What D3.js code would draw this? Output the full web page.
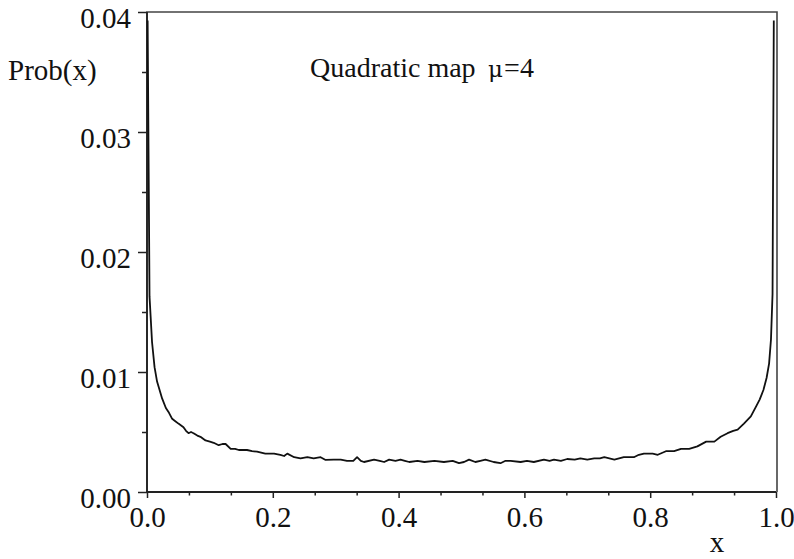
<!DOCTYPE html>
<html><head><meta charset="utf-8">
<script src="https://cdn.jsdelivr.net/npm/d3@7"></script>
<style>
html,body{margin:0;padding:0;background:#fff;}
svg text{font-family:"Liberation Serif","Times New Roman",serif;fill:#111;}
</style></head>
<body>
<svg id="c" width="794" height="559"></svg>
<script>
// ---- data ----
const xVals = [0.001,0.004,0.008,0.012,0.016,0.020,0.024,0.030,0.035,0.040,0.045,0.050,0.058,0.062,0.066,0.070,0.074,0.080,0.085,0.093,0.100,0.106,0.114,0.120,0.125,0.133,0.140,0.146,0.159,0.167,0.175,0.188,0.202,0.212,0.218,0.223,0.234,0.244,0.255,0.265,0.276,0.284,0.297,0.308,0.318,0.328,0.334,0.340,0.345,0.361,0.370,0.377,0.385,0.395,0.403,0.410,0.417,0.430,0.441,0.457,0.472,0.486,0.496,0.504,0.512,0.522,0.530,0.538,0.551,0.562,0.570,0.578,0.594,0.604,0.615,0.631,0.640,0.647,0.658,0.668,0.680,0.689,0.700,0.711,0.720,0.727,0.743,0.758,0.774,0.782,0.790,0.804,0.812,0.825,0.838,0.849,0.862,0.875,0.889,0.902,0.912,0.923,0.932,0.939,0.949,0.960,0.968,0.974,0.980,0.985,0.989,0.992,0.9945,0.9965];
const probVals = [0.0393,0.0163,0.0125,0.0104,0.0092,0.0085,0.0078,0.0070,0.0066,0.0061,0.0059,0.0057,0.0054,0.0051,0.0049,0.0050,0.0049,0.0047,0.0046,0.0043,0.0042,0.0041,0.0039,0.0040,0.0040,0.0036,0.0036,0.0035,0.0035,0.0034,0.00336,0.0032,0.0032,0.0031,0.0030,0.0032,0.0029,0.0028,0.0029,0.0028,0.0029,0.00267,0.0027,0.0027,0.0026,0.0026,0.0029,0.0026,0.0025,0.0027,0.0026,0.0025,0.0027,0.0026,0.0027,0.0026,0.0025,0.0026,0.0025,0.0026,0.0025,0.0026,0.0024,0.0025,0.0027,0.0025,0.0026,0.0027,0.0025,0.0024,0.0026,0.0026,0.0025,0.0026,0.0025,0.0027,0.0026,0.0027,0.0026,0.00275,0.0027,0.0028,0.0027,0.0028,0.0028,0.0029,0.0027,0.0029,0.0029,0.0031,0.0032,0.0032,0.0031,0.0034,0.0034,0.0036,0.0036,0.0038,0.0042,0.0042,0.0046,0.0049,0.0051,0.0052,0.0057,0.0063,0.0071,0.0077,0.0085,0.0095,0.0107,0.0127,0.0165,0.0393];
const xTicks = [0,0.2,0.4,0.6,0.8,1.0];
const xTickLabels = ["0.0","0.2","0.4","0.6","0.8","1.0"];
const yTicks = [0,0.01,0.02,0.03,0.04];
const yTickLabels = ["0.00","0.01","0.02","0.03","0.04"];
const xMinor = [1/15,2/15,4/15,5/15,7/15,8/15,10/15,11/15,13/15,14/15];
const yMinor = [0.005,0.015,0.025,0.035];
const title = "Quadratic map";
const muParts = ["\u03BC","=","4"];
const yLabel = "Prob(x)";
const xLabel = "x";

// ---- drawing ----
const svg = d3.select("#c");
const L = 147, R = 776, T = 12, B = 492;
const x = d3.scaleLinear().domain([0,1]).range([L,R]);
const y = d3.scaleLinear().domain([0,0.04]).range([B,T]);
const axisColor = "#222";
const serif = "Liberation Serif, Times New Roman, serif";

// frame
svg.append("path")
  .attr("d", `M${L},${B}V${T}H${R+1}V${B}`)
  .attr("fill","none").attr("stroke","#444").attr("stroke-width",1.6);
svg.append("line").attr("x1",L).attr("x2",R).attr("y1",B).attr("y2",B)
  .attr("stroke",axisColor).attr("stroke-width",2);
svg.append("line").attr("x1",L).attr("x2",L).attr("y1",B).attr("y2",T)
  .attr("stroke",axisColor).attr("stroke-width",1.8);

// y axis
const yAx = svg.append("g").attr("transform",`translate(${L},0)`)
  .call(d3.axisLeft(y).tickValues(yTicks).tickFormat((d,i)=>yTickLabels[i]).tickSize(9).tickPadding(7));
yAx.select(".domain").remove();
yAx.selectAll(".tick line").attr("stroke",axisColor).attr("stroke-width",1.5);
yAx.selectAll(".tick text").attr("font-size",29).attr("dy","0.55em")
  .attr("font-family",serif).attr("fill","#111");
const yAxm = svg.append("g").attr("transform",`translate(${L},0)`)
  .call(d3.axisLeft(y).tickValues(yMinor).tickFormat("").tickSize(5));
yAxm.select(".domain").remove();
yAxm.selectAll(".tick line").attr("stroke",axisColor).attr("stroke-width",1.5);

// x axis
const xAx = svg.append("g").attr("transform",`translate(0,${B})`)
  .call(d3.axisBottom(x).tickValues(xTicks).tickFormat((d,i)=>xTickLabels[i]).tickSize(6).tickPadding(8));
xAx.select(".domain").remove();
xAx.selectAll(".tick line").attr("stroke",axisColor).attr("stroke-width",1.5);
xAx.selectAll(".tick text").attr("font-size",29)
  .attr("font-family",serif).attr("fill","#111");
const xAxm = svg.append("g").attr("transform",`translate(0,${B})`)
  .call(d3.axisBottom(x).tickValues(xMinor).tickFormat("").tickSize(3.5));
xAxm.select(".domain").remove();
xAxm.selectAll(".tick line").attr("stroke",axisColor).attr("stroke-width",1.5);

// curve
const line = d3.line().x((d,i)=>x(xVals[i])).y(d=>y(d));
svg.append("path").datum(probVals).attr("d",line)
  .attr("fill","none").attr("stroke","#111").attr("stroke-width",1.8).attr("stroke-linejoin","round");

// labels
svg.append("text").attr("x",8).attr("y",80).attr("font-size",29).text(yLabel);
svg.append("text").attr("x",717).attr("y",552).attr("text-anchor","middle").attr("font-size",29).text(xLabel);
const t = svg.append("text").attr("y",77).attr("font-size",28);
t.append("tspan").attr("x",310).text(title);
t.append("tspan").attr("x",488).attr("font-family","DejaVu Serif, serif").attr("font-size",23).text(muParts[0]);
t.append("tspan").attr("x",504).attr("font-size",28).text(muParts[1]);
t.append("tspan").attr("x",520).attr("font-size",28).text(muParts[2]);
</script>
</body></html>
